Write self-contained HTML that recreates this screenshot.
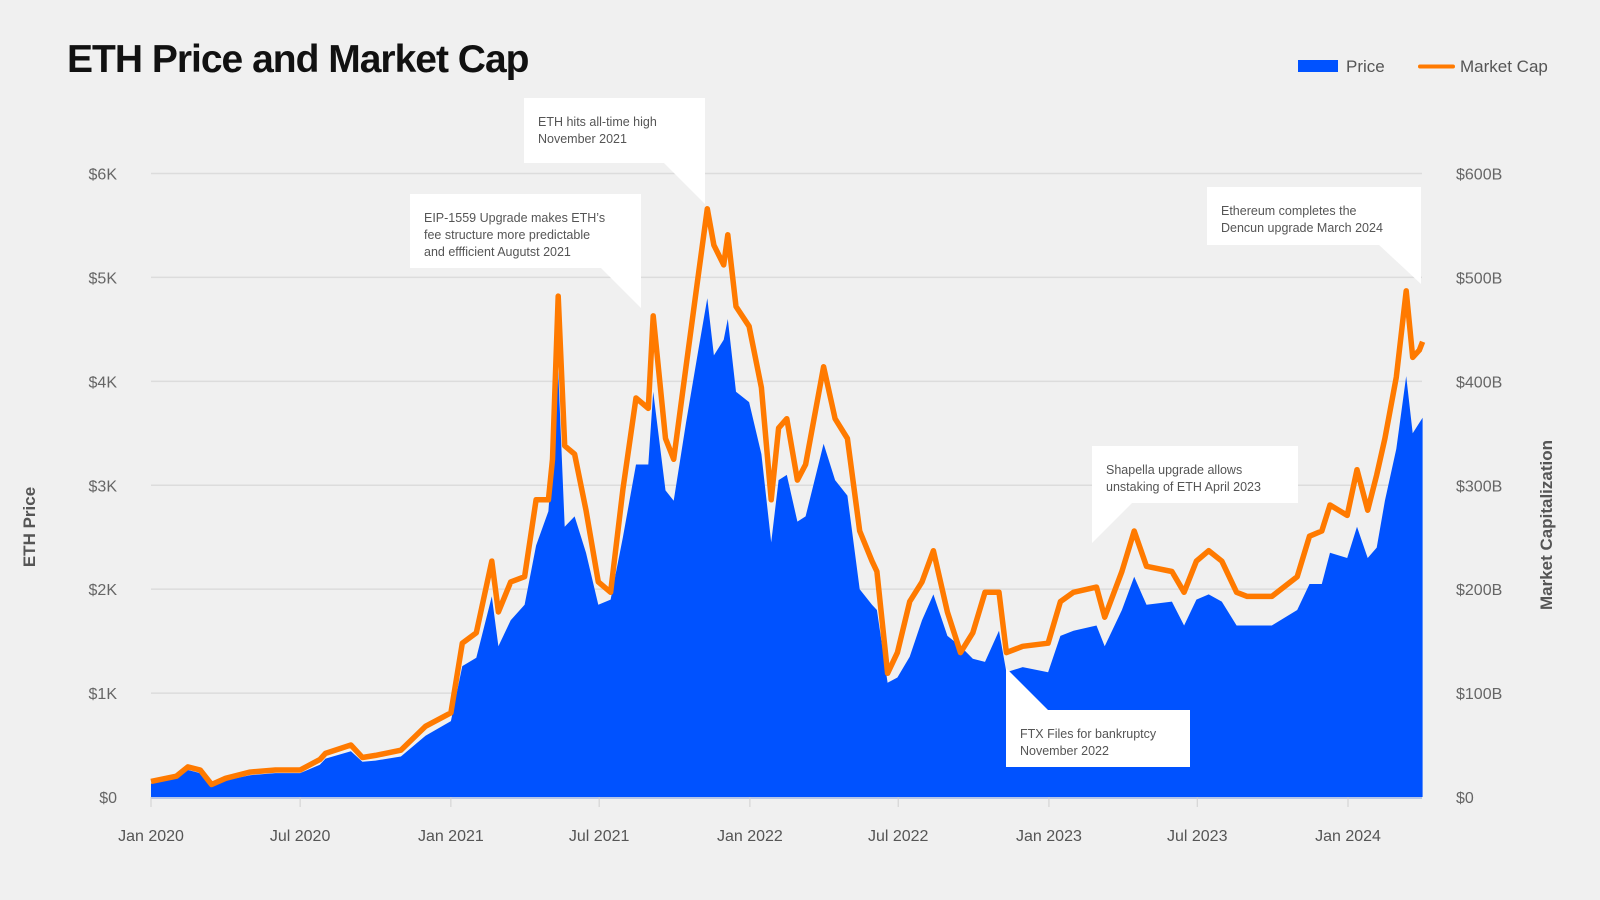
<!DOCTYPE html>
<html><head><meta charset="utf-8"><style>
html,body{margin:0;padding:0;background:#f0f0f0;}
svg{display:block;font-family:"Liberation Sans",sans-serif;}
</style></head><body>
<svg id="chart" width="1600" height="900" viewBox="0 0 1600 900" xmlns="http://www.w3.org/2000/svg">
<rect width="1600" height="900" fill="#f0f0f0"/>
<text x="67" y="72" font-size="39" font-weight="bold" fill="#111" letter-spacing="-1">ETH Price and Market Cap</text>
<g>
<rect x="1298" y="60" width="40" height="12" fill="#0052ff"/>
<text x="1346" y="72" font-size="17" fill="#555">Price</text>
<line x1="1420" y1="66.5" x2="1453" y2="66.5" stroke="#ff7a00" stroke-width="4" stroke-linecap="round"/>
<text x="1460" y="72" font-size="17" fill="#555">Market Cap</text>
</g>
<g id="grid"></g>
<g id="marks"></g>
<g id="axes"></g>
<g id="notes"></g>
<text transform="translate(35,527) rotate(-90)" text-anchor="middle" font-size="17" font-weight="bold" fill="#555">ETH Price</text>
<text transform="translate(1552,525) rotate(-90)" text-anchor="middle" font-size="17" font-weight="bold" fill="#555">Market Capitalization</text>
</svg>
<script>
const dates = ["2020-01-01","2020-02-01","2020-02-15","2020-03-01","2020-03-15","2020-04-01","2020-05-01","2020-06-01","2020-07-01","2020-07-25","2020-08-01","2020-09-01","2020-09-15","2020-10-01","2020-11-01","2020-12-01","2021-01-01","2021-01-15","2021-02-01","2021-02-20","2021-02-28","2021-03-15","2021-04-01","2021-04-15","2021-04-30","2021-05-05","2021-05-12","2021-05-20","2021-06-01","2021-06-15","2021-06-30","2021-07-15","2021-07-30","2021-08-15","2021-08-30","2021-09-05","2021-09-20","2021-09-30","2021-10-15","2021-10-30","2021-11-10","2021-11-18","2021-11-30","2021-12-05","2021-12-15","2021-12-31","2022-01-15","2022-01-27","2022-02-05","2022-02-15","2022-02-28","2022-03-10","2022-04-01","2022-04-15","2022-04-30","2022-05-15","2022-05-30","2022-06-05","2022-06-18","2022-06-30","2022-07-15","2022-07-30","2022-08-13","2022-08-30","2022-09-15","2022-09-30","2022-10-15","2022-11-01","2022-11-10","2022-11-30","2022-12-31","2023-01-15","2023-01-31","2023-02-28","2023-03-10","2023-03-31","2023-04-15","2023-04-30","2023-05-31","2023-06-15","2023-06-30","2023-07-15","2023-07-31","2023-08-18","2023-08-31","2023-09-30","2023-10-31","2023-11-15","2023-11-30","2023-12-10","2023-12-31","2024-01-12","2024-01-25","2024-02-05","2024-02-15","2024-02-29","2024-03-12","2024-03-20","2024-03-28","2024-04-01"];
const priceK = [0.13,0.18,0.26,0.23,0.11,0.16,0.21,0.23,0.23,0.31,0.37,0.44,0.34,0.35,0.39,0.59,0.73,1.26,1.34,1.93,1.45,1.7,1.85,2.42,2.75,3.3,4.1,2.6,2.7,2.35,1.85,1.9,2.5,3.2,3.2,3.9,2.95,2.85,3.6,4.3,4.8,4.25,4.4,4.6,3.9,3.8,3.3,2.45,3.05,3.1,2.65,2.7,3.4,3.05,2.9,2.0,1.85,1.8,1.1,1.15,1.35,1.7,1.95,1.55,1.45,1.33,1.3,1.6,1.2,1.25,1.2,1.55,1.6,1.65,1.45,1.8,2.12,1.85,1.88,1.65,1.9,1.95,1.88,1.65,1.65,1.65,1.8,2.05,2.05,2.35,2.3,2.6,2.3,2.4,2.85,3.35,4.05,3.5,3.6,3.65];
const mcapB = [15,20,29,26,12,18,24,26,26,36,42,50,38,40,45,68,81,148,158,227,178,207,212,286,286,325,482,338,330,276,207,197,296,384,374,463,345,325,414,502,566,531,512,541,472,453,394,286,355,364,305,320,414,364,345,256,227,217,119,139,188,207,237,178,139,158,197,197,139,145,148,188,197,202,173,217,256,222,217,197,227,237,227,197,193,193,212,251,256,281,271,315,276,310,345,404,487,423,430,438];
const yTicks = [0,1,2,3,4,5,6];
const yTickLabels = ["$0","$1K","$2K","$3K","$4K","$5K","$6K"];
const y2TickLabels = ["$0","$100B","$200B","$300B","$400B","$500B","$600B"];
const xTickDates = ["2020-01-01","2020-07-01","2021-01-01","2021-07-01","2022-01-01","2022-07-01","2023-01-01","2023-07-01","2024-01-01"];
const xTickLabels = ["Jan 2020","Jul 2020","Jan 2021","Jul 2021","Jan 2022","Jul 2022","Jan 2023","Jul 2023","Jan 2024"];

const NS="http://www.w3.org/2000/svg";
const X0=151, X1=1422, Y0=797, Y6=173.5;
const t0=Date.parse("2020-01-01"), tPerPx=(Date.parse("2024-01-01")-t0)/(1348-151);
function xs(d){return X0+(Date.parse(d)-t0)/tPerPx;}
function ys(k){return Y0-(Y0-Y6)*k/6;}
function ysB(b){return ys(b/100);}
function mk(tag,attrs,parent){const e=document.createElementNS(NS,tag);for(const k in attrs)e.setAttribute(k,attrs[k]);parent.appendChild(e);return e;}
const grid=document.getElementById('grid'),marks=document.getElementById('marks'),axes=document.getElementById('axes'),notes=document.getElementById('notes');
yTicks.forEach((v,i)=>{
  if(v>0){const g=mk('line',{x1:X0,x2:X1,y1:ys(v),y2:ys(v),stroke:'#dcdcdc','stroke-width':1.5},grid);
  
  }
  const t=mk('text',{x:117,y:ys(v)+6,'text-anchor':'end','font-size':16,fill:'#666'},axes);t.textContent=yTickLabels[i];
  
  
  const t2=mk('text',{x:1456,y:ys(v)+6,'font-size':16,fill:'#666'},axes);t2.textContent=y2TickLabels[i];
  
  
});
let d="M"+xs(dates[0])+","+Y0;
dates.forEach((dt,i)=>{d+=" L"+xs(dt).toFixed(1)+","+ys(priceK[i]).toFixed(1);});
d+=" L"+xs(dates[dates.length-1]).toFixed(1)+","+Y0+" Z";
const area=mk('path',{d:d,fill:'#0052ff'},marks);


let l="";
dates.forEach((dt,i)=>{l+=(i?" L":"M")+xs(dt).toFixed(1)+","+ysB(mcapB[i]).toFixed(1);});
const line=mk('path',{d:l,fill:'none',stroke:'#ff7a00','stroke-width':5.5,'stroke-linejoin':'round'},marks);


const base=mk('line',{x1:X0,x2:X1,y1:Y0+1,y2:Y0+1,stroke:'#b8c6e6','stroke-width':2},axes);


xTickDates.forEach((dt,i)=>{
  const x=xs(dt);
  const tk=mk('line',{x1:x,x2:x,y1:Y0,y2:Y0+10,stroke:'#d0d0d0','stroke-width':1},axes);
  
  
  const t=mk('text',{x:x,y:841,'text-anchor':'middle','font-size':16,fill:'#555'},axes);t.textContent=xTickLabels[i];
  
  
});
function note(name,x,y,w,h,tail,lines){
  const g=mk('g',{},notes);
  
  
  mk('rect',{x:x,y:y,width:w,height:h,fill:'#fff'},g);
  mk('polygon',{points:tail,fill:'#fff'},g);
  lines.forEach((s,i)=>{const t=mk('text',{x:x+14,y:y+28+i*17,'font-size':12.5,fill:'#555'},g);t.textContent=s;});
}
note('annotation-eip1559',410,194,231,74,"600,267 641,267 641,308",["EIP-1559 Upgrade makes ETH’s","fee structure more predictable","and effficient Augutst 2021"]);
note('annotation-ath',524,98,181,65,"663,162 705,162 705,204",["ETH hits all-time high","November 2021"]);
note('annotation-dencun',1207,187,214,58,"1378,244 1421,244 1421,284",["Ethereum completes the","Dencun upgrade March 2024"]);
note('annotation-shapella',1092,446,206,57,"1092,502 1133,502 1092,543",["Shapella upgrade allows","unstaking of ETH April 2023"]);
note('annotation-ftx',1006,710,184,57,"1006,711 1049,711 1006,668",["FTX Files for bankruptcy","November 2022"]);
</script>
</body></html>
